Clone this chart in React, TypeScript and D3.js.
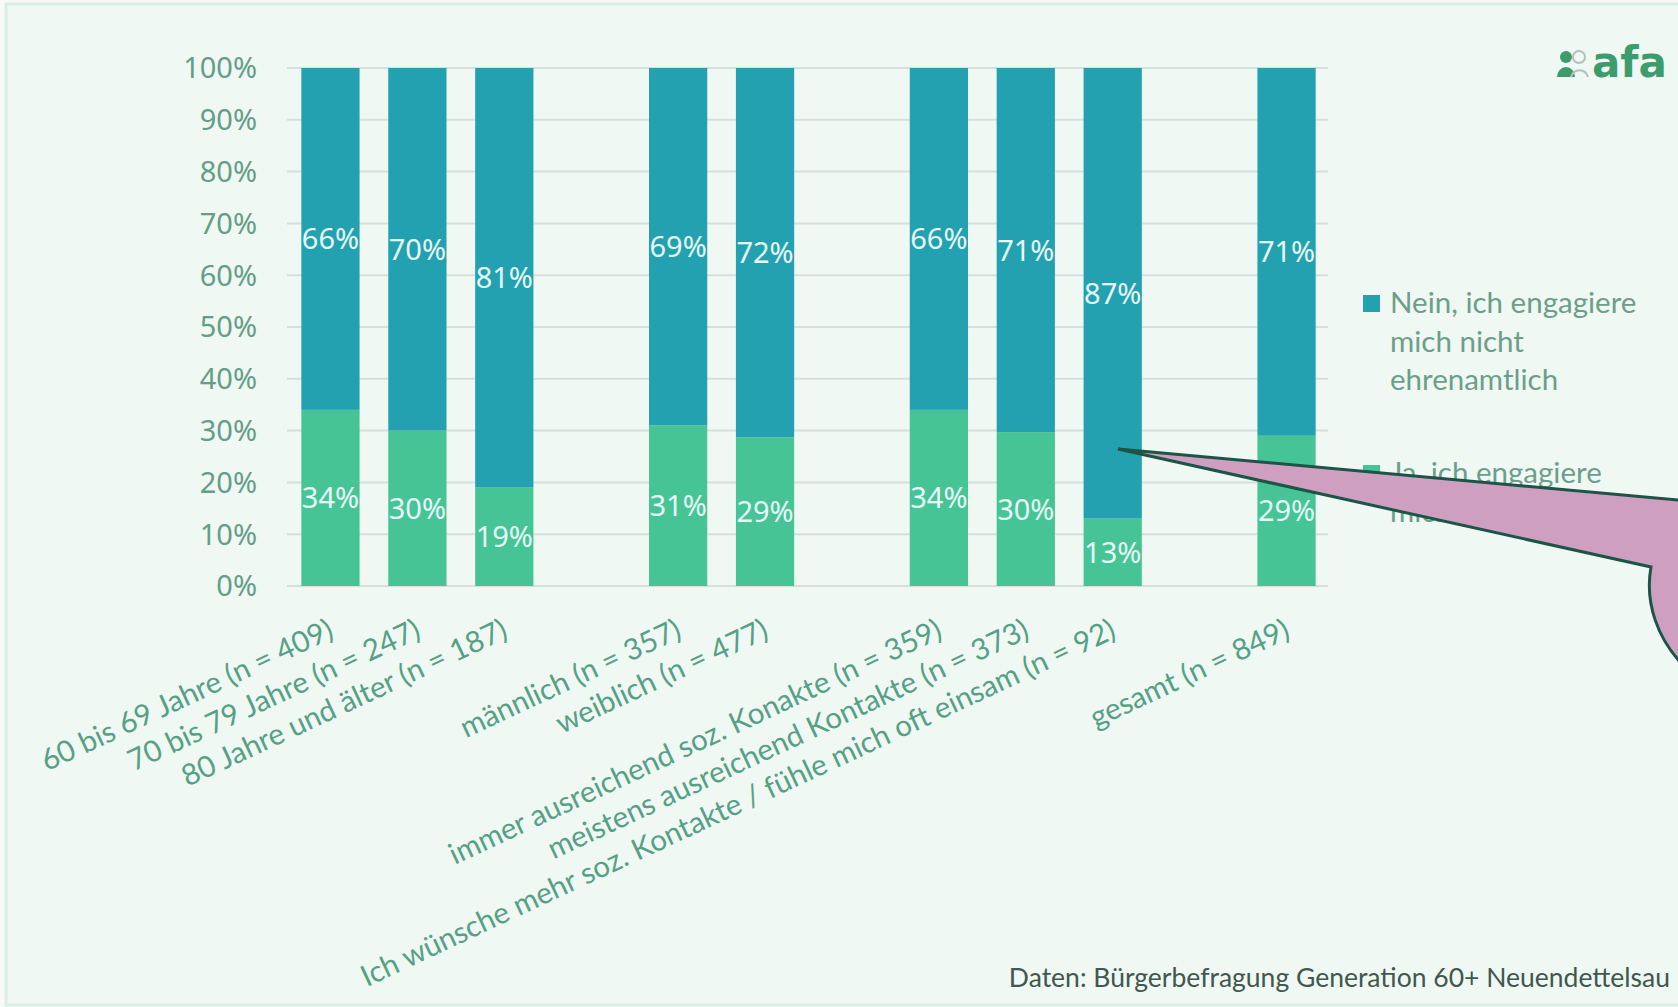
import * as d3 from "d3";

const W = 1678;
const H = 1007;
const MARGIN = { top: 68, left: 287, right: 1330, bottom: 586 };

// categories incl. empty spacer slots between the groups
const categories = [
  "60 bis 69 Jahre (n = 409)",
  "70 bis 79 Jahre (n = 247)",
  "80 Jahre und älter (n = 187)",
  "",
  "männlich (n = 357)",
  "weiblich (n = 477)",
  "",
  "immer ausreichend soz. Konakte (n = 359)",
  "meistens ausreichend Kontakte (n = 373)",
  "Ich wünsche mehr soz. Kontakte / fühle mich oft einsam (n = 92)",
  "",
  "gesamt (n = 849)",
];
const jaValues = [34, 30, 19, null, 31, 29, null, 34, 30, 13, null, 29];
const neinValues = [66, 70, 81, null, 69, 72, null, 66, 71, 87, null, 71];
const yTicks = [0, 10, 20, 30, 40, 50, 60, 70, 80, 90, 100];
const legendLines = [
  ["Nein, ich engagiere", "mich nicht", "ehrenamtlich"],
  ["Ja, ich engagiere", "mich ehrenamtlich"],
];
const sourceText = "Daten: Bürgerbefragung Generation 60+ Neuendettelsau";

const COLORS = { ja: "#47c496", nein: "#24a1b1" };

export default function App() {
  const rows = categories.map((c, i) => ({
    idx: String(i),
    ja: jaValues[i] ?? 0,
    nein: neinValues[i] ?? 0,
  }));

  const series = d3
    .stack<any>()
    .keys(["ja", "nein"])
    .order(d3.stackOrderNone)
    .offset(d3.stackOffsetExpand)(rows);

  const xScale = d3
    .scaleBand()
    .domain(rows.map((r) => r.idx))
    .range([MARGIN.left, MARGIN.right])
    .paddingInner(0.33)
    .paddingOuter(0.165);

  const yScale = d3.scaleLinear().domain([0, 1]).range([MARGIN.bottom, MARGIN.top]);

  // callout bubble (extends past the right edge)
  const callout = d3.path();
  callout.moveTo(1118, 449);
  callout.lineTo(1700, 502);
  callout.lineTo(1700, 690);
  callout.lineTo(1690, 672);
  callout.bezierCurveTo(1655, 640, 1645, 600, 1651, 567);
  callout.closePath();

  return (
    <svg width={W} height={H} style={{ display: "block" }}>
      <style>{"body{margin:0}"}</style>
      <rect x={0} y={0} width={W} height={H} fill="#f6fbf9" />
      <rect x={6} y={4} width={W} height={H - 6} fill="#eff8f3" stroke="#d9eee7" strokeWidth={3} />

      {/* gridlines */}
      {yTicks.map((t) => (
        <line
          key={t}
          x1={MARGIN.left}
          x2={MARGIN.right - 2}
          y1={yScale(t / 100)}
          y2={yScale(t / 100)}
          stroke="#d6dfdb"
          strokeWidth={2}
        />
      ))}
      {yTicks.map((t) => (
        <text
          key={"t" + t}
          x={257}
          y={yScale(t / 100)}
          dy="0.36em"
          textAnchor="end"
          fontFamily="Noto Sans"
          fontSize={29}
          fill="#649d88"
        >
          {t}%
        </text>
      ))}

      {/* bars */}
      {series.map((s) => (
        <g key={s.key} fill={COLORS[s.key as "ja" | "nein"]}>
          {s.map((d, i) =>
            jaValues[i] == null ? null : (
              <rect
                key={i}
                x={xScale(String(i))}
                width={xScale.bandwidth()}
                y={yScale(d[1])}
                height={yScale(d[0]) - yScale(d[1])}
              />
            )
          )}
        </g>
      ))}
      {series.map((s) =>
        s.map((d, i) => {
          const v = s.key === "ja" ? jaValues[i] : neinValues[i];
          if (v == null) return null;
          return (
            <text
              key={s.key + i}
              x={(xScale(String(i)) || 0) + xScale.bandwidth() / 2}
              y={yScale((d[0] + d[1]) / 2)}
              dy="0.36em"
              textAnchor="middle"
              fontFamily="Noto Sans"
              fontSize={29}
              fill="#e6fbf8"
            >
              {v}%
            </text>
          );
        })
      )}

      {/* category labels */}
      {categories.map((c, i) => {
        if (!c) return null;
        const cx = (xScale(String(i)) || 0) + xScale.bandwidth() / 2 + 5;
        const cy = MARGIN.bottom + 51;
        return (
          <text
            key={"c" + i}
            transform={`translate(${cx},${cy}) rotate(-25)`}
            textAnchor="end"
            fontFamily="Lato"
            fontSize={29.5}
            fill="#56a086"
          >
            {c}
          </text>
        );
      })}

      {/* legend */}
      {legendLines.map((lines, k) => {
        const y0 = k === 0 ? 313 : 483;
        return (
          <g key={"l" + k}>
            <rect x={1363} y={y0 - 18} width={17} height={17} fill={k === 0 ? COLORS.nein : COLORS.ja} />
            {lines.map((ln, j) => (
              <text key={j} x={1390} y={y0 + j * 38.5} fontFamily="Lato" fontSize={29.5} fill="#6c9f8b">
                {ln}
              </text>
            ))}
          </g>
        );
      })}

      {/* logo */}
      <g>
        <circle cx={1566} cy={57} r={6} fill="#3c9c6c" />
        <path d="M1557,77 A9,10 0 0 1 1575,77 Z" fill="#3c9c6c" />
        <circle cx={1579} cy={57} r={6} fill="none" stroke="#b3c0bb" strokeWidth={2} />
        <path d="M1571,77 A9,10 0 0 1 1588,77" fill="none" stroke="#b3c0bb" strokeWidth={2} />
        <text x={1592} y={77} fontFamily="DejaVu Sans" fontWeight="bold" fontSize={42} fill="#3c9c6c">
          afa
        </text>
      </g>

      {/* callout */}
      <path d={callout.toString()} fill="#cf9fc1" stroke="#1c5446" strokeWidth={3} strokeLinejoin="miter" />

      <text x={1670} y={987} textAnchor="end" fontFamily="Lato" fontSize={26.5} fill="#41574f">
        {sourceText}
      </text>
    </svg>
  );
}
